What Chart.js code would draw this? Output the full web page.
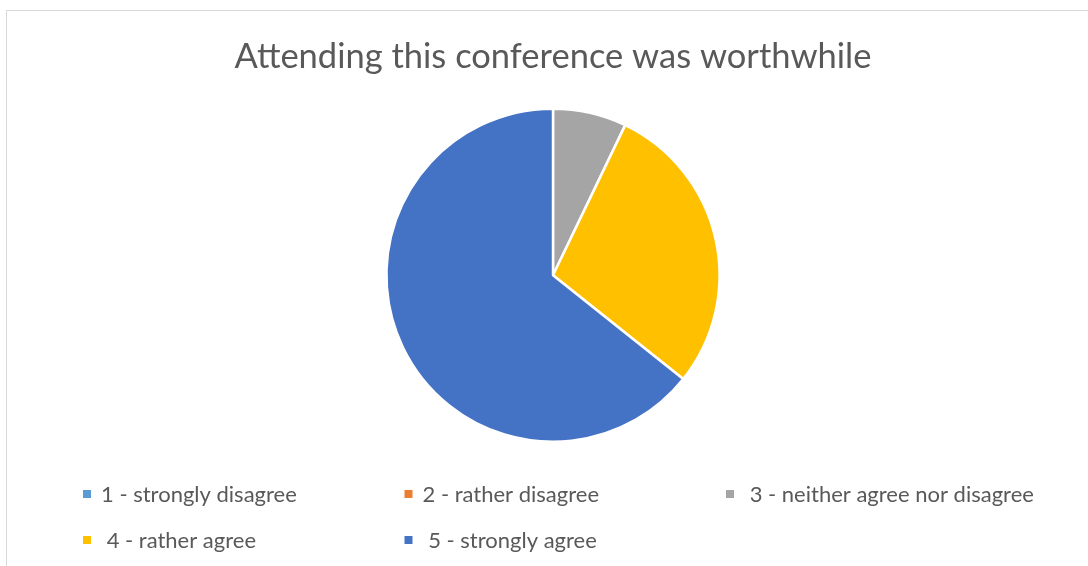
<!DOCTYPE html>
<html>
<head>
<meta charset="utf-8">
<script src="https://cdn.jsdelivr.net/npm/chart.js@4/dist/chart.umd.min.js"></script>
<style>
  html, body { margin: 0; padding: 0; background: #fff; overflow: hidden; }
  #wrap { position: relative; width: 1088px; height: 566px; }
  #frame { position: absolute; left: 6px; top: 10px; width: 1110px; height: 600px; border: 1px solid #d9d9d9; }
  canvas { position: absolute; left: 0; top: 0; }
</style>
</head>
<body>
<div id="wrap">
  <div id="frame"></div>
  <canvas id="chart" width="1088" height="566"></canvas>
</div>
<script>
const title = 'Attending this conference was worthwhile';
const categories = ['1 - strongly disagree', '2 - rather disagree', ' 3 - neither agree nor disagree', ' 4 - rather agree', ' 5 - strongly agree'];
const responses = [0, 0, 1, 4, 9];
const sliceColors = ['#5b9bd5', '#ed7d31', '#a5a5a5', '#ffc000', '#4472c4'];

const FONT = 'Lato, "Open Sans", sans-serif';

// legend laid out in a 3-column grid like the office chart
const gridLegend = {
  id: 'gridLegend',
  afterDraw(chart, args, opts) {
    const ctx = chart.ctx;
    const labels = chart.data.labels;
    const colors = chart.data.datasets[0].backgroundColor;
    ctx.save();
    ctx.font = opts.fontSize + 'px ' + FONT;
    ctx.textBaseline = 'middle';
    labels.forEach((lbl, i) => {
      const col = i % opts.cols;
      const row = Math.floor(i / opts.cols);
      const x = opts.left + col * opts.colWidth;
      const y = opts.top + row * opts.rowHeight;
      ctx.fillStyle = colors[i];
      ctx.fillRect(x, y - 4, 8, 8);
      ctx.fillStyle = '#595959';
      ctx.fillText(lbl, x + 18, y + 1);
    });
    ctx.restore();
  }
};

new Chart(document.getElementById('chart').getContext('2d'), {
  type: 'pie',
  data: {
    labels: categories,
    datasets: [{
      data: responses,
      backgroundColor: sliceColors,
      borderColor: '#ffffff',
      borderWidth: 2.5
    }]
  },
  options: {
    responsive: false,
    animation: false,
    layout: { padding: { left: 18, right: 0, top: 0, bottom: 123 } },
    plugins: {
      legend: { display: false },
      tooltip: { enabled: false },
      title: {
        display: true,
        text: title,
        color: '#595959',
        font: { family: FONT, size: 34.5, weight: 'normal' },
        padding: { top: 36, bottom: 30 }
      },
      gridLegend: { left: 83, top: 494, cols: 3, colWidth: 321.5, rowHeight: 46, fontSize: 22 }
    }
  },
  plugins: [gridLegend]
});
</script>
</body>
</html>
